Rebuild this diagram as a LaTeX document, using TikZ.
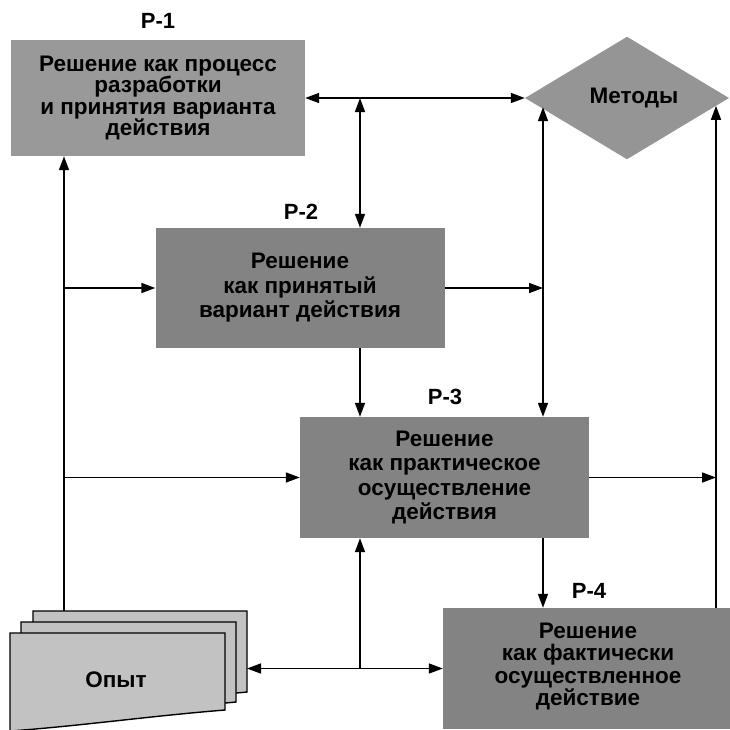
\documentclass[tikz,border=0pt]{standalone}
\usepackage{fontspec}
\setmainfont{Liberation Sans}
\usetikzlibrary{shapes.geometric,arrows.meta}
\definecolor{pone}{HTML}{999999}
\definecolor{ptwo}{HTML}{838383}
\definecolor{pmeth}{HTML}{959595}
\definecolor{sheetgray}{HTML}{C2C2C2}
\begin{document}
\begin{tikzpicture}[x=1pt,y=-1pt,
  conn/.style={line width=1.5pt, -{Triangle[length=14pt,width=10pt]}},
  bconn/.style={line width=1.5pt, {Triangle[length=14pt,width=10pt]}-{Triangle[length=14pt,width=10pt]}},
  box/.style={rectangle, inner sep=0pt, align=center},
  txt/.style={font=\bfseries\fontsize{22.5}{24.5}\selectfont},
  lbl/.style={font=\bfseries\fontsize{22}{24}\selectfont},
  sheet/.style={draw=black, line width=1.4pt, fill=sheetgray}]
\useasboundingbox (0,0) rectangle (730,729);
\clip (0,0) rectangle (730,729);
% bus lines
\coordinate (xA) at (64,0);
\coordinate (xB) at (360,0);
\coordinate (xC) at (543,0);
\coordinate (xD) at (716,0);
% boxes
\node[box, fill=pone, minimum width=294pt, minimum height=116pt,
  font=\bfseries\fontsize{22.5}{21.5}\selectfont] (p1) at (158,98)
  {Решение как процесс\\разработки\\и принятия варианта\\действия};
\node[diamond, fill=pmeth, minimum width=204pt, minimum height=112pt, inner sep=0pt,
  txt] (meth) at (627,98) {\hspace*{14pt}Методы};
\node[box, txt, fill=ptwo, minimum width=289pt, minimum height=120pt] (p2) at (300,288)
  {Решение\\как принятый\\вариант действия};
\node[box, txt, fill=ptwo, minimum width=289pt, minimum height=121pt] (p3) at (444.5,477.5)
  {Решение\\как практическое\\осуществление\\действия};
\node[box, fill=ptwo, minimum width=290pt, minimum height=121pt,
  font=\bfseries\fontsize{22.5}{22.5}\selectfont] (p4) at (588,668.5)
  {Решение\\как фактически\\осуществленное\\действие\\[-13.5pt]};
% labels
\node[lbl] (l1) at (158,21) {Р-1};
\node[lbl] (l2) at (301,212) {Р-2};
\node[lbl] (l3) at (445,397) {Р-3};
\node[lbl] (l4) at (589,591) {Р-4};
% experience sheets
\coordinate (s3nw) at (33,611);
\coordinate (s3ne) at (247,611);
\coordinate (s3se) at (247,692);
\draw[sheet] (s3nw) -- (s3ne) -- (s3se) .. controls (180,698) and (110,712) .. (33,716) -- cycle;
\draw[sheet] (21,622) -- (236,622) -- (236,702) .. controls (170,708) and (100,720) .. (21,724) -- cycle;
\draw[sheet] (10,633) -- (225,633) -- (225,710) .. controls (150,716) and (80,726) .. (10,731) -- cycle;
\node[txt] (op) at (116,680) {Опыт};
% connectors
\draw[bconn] (p1.east) -- (meth.west);
\draw[bconn] (xB |- p1.east) -- (p2.north -| xB);
\draw[conn] (p2.south -| xB) -- (p3.north -| xB);
\draw[conn] (xA |- s3nw) -- (p1.south -| xA);
\draw[conn] (xA |- p2.west) -- (p2.west);
\draw[conn] (xA |- p3.west) -- (p3.west);
\draw[conn] (p2.east) -- (xC |- p2.east);
\draw[bconn] (xC |- meth.186.7) -- (p3.north -| xC);
\draw[conn] (p3.east) -- (xD |- p3.east);
\draw[conn] (p4.north -| xD) -- (xD |- meth.355.4);
\draw[conn] (p3.south -| xC) -- (p4.north -| xC);
\draw[bconn] (s3se |- p4.west) -- (p4.west);
\draw[conn] (xB |- p4.west) -- (p3.south -| xB);
\end{tikzpicture}
\end{document}
